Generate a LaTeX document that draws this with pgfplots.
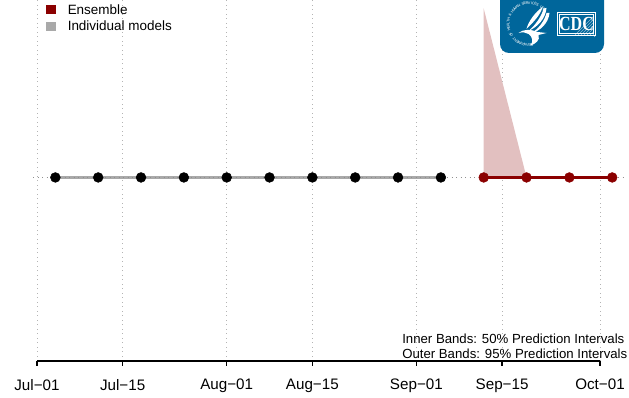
\documentclass[border=0pt]{standalone}
\usepackage{fontspec}
\setmainfont{Liberation Sans}
\newfontfamily\logofont{Liberation Serif}
\usepackage{pgfplots}
\pgfplotsset{compat=1.18}
\newlength{\pxl}\setlength{\pxl}{0.75pt}
\definecolor{ensred}{HTML}{8B0000}
\definecolor{bandred}{HTML}{E2C0C0}
\definecolor{indgray}{HTML}{A9A9A9}
\definecolor{griddot}{HTML}{B4B4B4}
\definecolor{cdcblue}{HTML}{00669B}
\begin{document}
\begin{tikzpicture}[x=1pt,y=1pt]
\useasboundingbox (0,0) rectangle (629\pxl,398\pxl);
\begin{axis}[
  at={(37\pxl,37\pxl)}, anchor=south west,
  scale only axis, width=563\pxl, height=361\pxl,
  xmin=0, xmax=92, ymin=-1.086, ymax=1.05,
  axis x line=bottom, axis y line=none,
  axis line style={-, line width=1.5\pxl, black},
  clip=false,
  xtick={0,14,31,45,62,76,92},
  xticklabels={Jul−01,Jul−15,Aug−01,Aug−15,Sep−01,Sep−15,Oct−01},
  xticklabel style={font=\fontsize{11.4pt}{13pt}\selectfont, yshift=-8.5\pxl},
  tick align=outside,
  major tick length=5\pxl,
  x tick style={line width=1.3\pxl, black},
  xmajorgrids,
  grid style={griddot, line width=0.9\pxl, dash pattern=on 0.9\pxl off 3.6\pxl},
]
\addplot[draw=none, fill=bandred] coordinates {(73,0) (73,1) (80,0) (73,0)};
\addplot[indgray, line width=3\pxl] coordinates {
 (3,0)(10,0)(17,0)(24,0)(31,0)(38,0)(45,0)(52,0)(59,0)(66,0)};
\addplot[griddot!80!black, line width=0.9\pxl, dash pattern=on 0.9\pxl off 3.6\pxl] coordinates {(-0.65,0)(96.4,0)};
\addplot[ensred, line width=3.1\pxl] coordinates {(73,0)(80,0)(87,0)(94,0)};
\addplot[only marks, mark=*, mark size=4.9\pxl, black, mark options={draw=black, fill=black}] coordinates {
 (3,0)(10,0)(17,0)(24,0)(31,0)(38,0)(45,0)(52,0)(59,0)(66,0)};
\addplot[only marks, mark=*, mark size=4.9\pxl, ensred, mark options={draw=ensred, fill=ensred}] coordinates {
 (73,0)(80,0)(87,0)(94,0)};
\end{axis}
\begin{scope}[x=\pxl,y=-\pxl,yshift=398\pxl]
\fill[ensred] (46,5) rectangle (56,14);
\fill[indgray] (46,22) rectangle (56,31);
\node[anchor=base west, inner sep=0pt, font=\fontsize{10.1pt}{11pt}\selectfont] at (67.5,14.5) {Ensemble};
\node[anchor=base west, inner sep=0pt, font=\fontsize{10.1pt}{11pt}\selectfont] at (67.5,31) {Individual models};
\node[anchor=base west, inner sep=0pt, font=\fontsize{9.9pt}{11pt}\selectfont] at (402,344) {Inner Bands: 50\% Prediction Intervals};
\node[anchor=base west, inner sep=0pt, font=\fontsize{9.9pt}{11pt}\selectfont] at (402,359) {Outer Bands: 95\% Prediction Intervals};
% logo
\fill[cdcblue, rounded corners=9\pxl] (500,-14) rectangle (604,53);
\foreach[count=\i] \c in {D,E,P,A,R,T,M,E,N,T,{},O,F,{},H,E,A,L,T,H,{},\&,{},H,U,M,A,N,{},S,E,R,V,I,C,E,S,{},U,S,A}{
  \pgfmathsetmacro{\a}{284-5.9*\i}
  \node[white, inner sep=0pt, rotate=\a-90, font=\fontsize{2.8pt}{3.2pt}\selectfont]
    at ({529+21*cos(\a)},{24-21*sin(\a)}) {\c};
}
\begin{scope}[xshift=-2.5\pxl]
\fill[white] (549,8) .. controls (548,19) and (540,27) .. (531,31) .. controls (537,26) and (544,17) .. (546,8.5) -- cycle;
\fill[white] (552,13) .. controls (551,23) and (543,31) .. (534,33) .. controls (541,29) and (547,21) .. (549,13) -- cycle;
\fill[white] (545,7) .. controls (543,15) and (536,22) .. (529,29) .. controls (531,21) and (538,12) .. (545,7) -- cycle;
\fill[white] (521,33) .. controls (526,29) and (533,29) .. (540,32) -- (549,33) -- (541,35) .. controls (543,40) and (538,44) .. (533,45.5) .. controls (536,41) and (535,37) .. (531,34) .. controls (528,32) and (525,32) .. (521,33) -- cycle;
\end{scope}
\foreach \d in {0,3,...,21}{
  \draw[white!55!cdcblue, line width=0.4\pxl] (575+\d,35) -- (594,35-19+\d);
}
\draw[white, line width=1\pxl] (557.5,12.5) rectangle (595.5,35.5);
\draw[white, line width=0.5\pxl] (559.5,14.5) rectangle (593.5,33.5);
\node[white, inner sep=0pt, xscale=0.8, font=\logofont\fontsize{15pt}{16pt}\selectfont\bfseries] at (576.5,24) {CDC};
\end{scope}
\end{tikzpicture}
\end{document}
